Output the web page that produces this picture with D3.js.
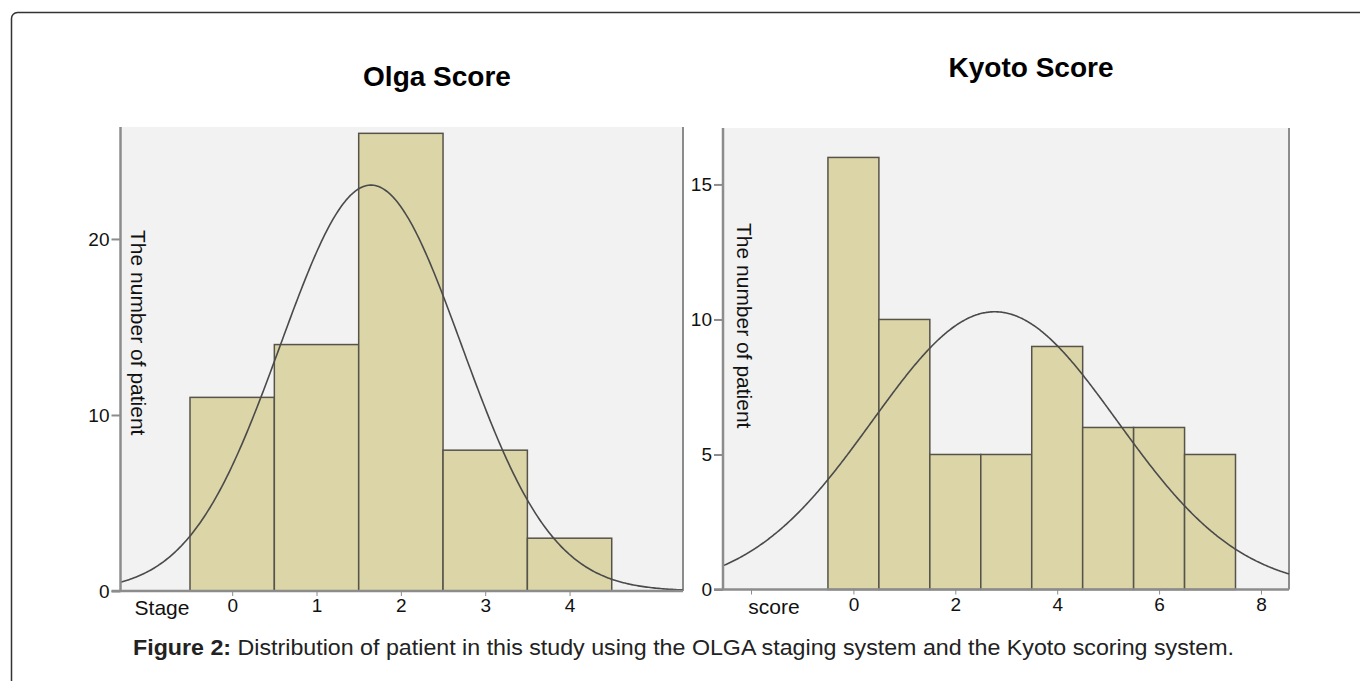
<!DOCTYPE html>
<html>
<head>
<meta charset="utf-8">
<script src="https://cdn.jsdelivr.net/npm/d3@7"></script>
<style>
  body { margin: 0; background: #fff; }
  svg { display: block; font-family: "Liberation Sans", Arial, sans-serif; }
  .axis path, .axis line { stroke: #8c8c8c; }
</style>
</head>
<body>
<div class="App"></div>
<script>
// histogram data
const olgaStages = [0, 1, 2, 3, 4];
const olgaCounts = [11, 14, 26, 8, 3];
const olgaYTicks = [0, 10, 20];
const olgaXTicks = [0, 1, 2, 3, 4];

const kyotoScores = [0, 1, 2, 3, 4, 5, 6, 7];
const kyotoCounts = [16, 10, 5, 5, 9, 6, 6, 5];
const kyotoYTicks = [0, 5, 10, 15];
const kyotoXTicks = [0, 2, 4, 6, 8];
const kyotoMinorTicks = [-2];

const yTitle = "The number of patient";

let width = 1360, height = 681;

let svg = d3.select(".App").append("svg")
  .attr("width", width)
  .attr("height", height);

// outer frame, runs off the right and bottom edges
svg.append("rect")
  .attr("x", 11.5).attr("y", 12.5)
  .attr("width", 1400).attr("height", 720)
  .attr("rx", 6)
  .attr("fill", "none")
  .attr("stroke", "#333")
  .attr("stroke-width", 1.5);

function drawPanel(opt) {
  let x = d3.scaleLinear().domain(opt.xDomain).range([opt.left, opt.right]);
  let y = d3.scaleLinear().domain(opt.yDomain).range([opt.bottom, opt.top]);
  let g = svg.append("g");

  // plot background
  g.append("rect")
    .attr("x", opt.left).attr("y", opt.top)
    .attr("width", opt.right - opt.left)
    .attr("height", opt.bottom - opt.top)
    .attr("fill", "#f2f2f2");

  // right border
  g.append("line")
    .attr("x1", opt.right).attr("x2", opt.right)
    .attr("y1", opt.top).attr("y2", opt.bottom)
    .attr("stroke", "#8c8c8c").attr("stroke-width", 2);

  // bars
  g.selectAll(".bar")
    .data(opt.bins.map((b, i) => ({ bin: b, count: opt.counts[i] })))
    .enter().append("rect")
    .attr("class", "bar")
    .attr("x", d => x(d.bin - 0.5))
    .attr("y", d => y(d.count))
    .attr("width", d => x(d.bin + 0.5) - x(d.bin - 0.5))
    .attr("height", d => y(0) - y(d.count))
    .attr("fill", "#dbd5a8")
    .attr("stroke", "#55534a")
    .attr("stroke-width", 1.5);

  // fitted normal curve
  let n = d3.sum(opt.counts);
  let mean = d3.sum(opt.bins, (b, i) => b * opt.counts[i]) / n;
  let sd = Math.sqrt(d3.sum(opt.bins, (b, i) => opt.counts[i] * (b - mean) ** 2) / (n - 1));
  let density = v => n / (sd * Math.sqrt(2 * Math.PI)) * Math.exp(-0.5 * ((v - mean) / sd) ** 2);
  let xs = d3.range(opt.xDomain[0], opt.xDomain[1], 0.02).concat([opt.xDomain[1]]);
  g.append("path")
    .datum(xs)
    .attr("fill", "none")
    .attr("stroke", "#4a4a4a")
    .attr("stroke-width", 1.6)
    .attr("d", d3.line().x(v => x(v)).y(v => y(density(v))));

  // y axis
  let yAxis = g.append("g")
    .attr("class", "axis")
    .attr("transform", "translate(" + opt.left + ",0)")
    .call(d3.axisLeft(y).tickValues(opt.yTicks).tickFormat(d3.format("d"))
      .tickSize(9).tickPadding(2).tickSizeOuter(0));
  yAxis.select(".domain").attr("stroke-width", 2.5)
    .attr("d", "M0," + opt.top + "V" + opt.bottom);
  yAxis.selectAll(".tick line").attr("stroke-width", 2);
  yAxis.selectAll("text").attr("font-size", 19).attr("fill", "#111").attr("font-family", null);

  // x axis
  let xAxis = g.append("g")
    .attr("class", "axis")
    .attr("transform", "translate(0," + opt.bottom + ")")
    .call(d3.axisBottom(x).tickValues(opt.xTicks).tickFormat(d3.format("d"))
      .tickSize(5).tickPadding(3).tickSizeOuter(0));
  xAxis.select(".domain").attr("stroke-width", 2.5)
    .attr("d", "M" + (opt.left - 9) + ",0H" + opt.right);
  xAxis.selectAll("text").attr("font-size", 19).attr("fill", "#111").attr("font-family", null);
  if (opt.minorTicks) {
    xAxis.selectAll(".minor")
      .data(opt.minorTicks)
      .enter().append("line")
      .attr("x1", d => x(d)).attr("x2", d => x(d))
      .attr("y1", 0).attr("y2", 5)
      .attr("stroke", "#bbb");
  }

  // x label sitting on the tick row
  g.append("text")
    .attr("x", opt.xLabelX).attr("y", opt.bottom + 24)
    .attr("text-anchor", "middle")
    .attr("font-size", 21)
    .attr("fill", "#111")
    .text(opt.xLabel);

  // y title, reads top to bottom
  g.append("text")
    .attr("transform", "translate(" + opt.yTitleX + "," + opt.yTitleY + ") rotate(90)")
    .attr("dominant-baseline", "central")
    .attr("font-size", 21)
    .attr("fill", "#111")
    .text(yTitle);

  // title
  g.append("text")
    .attr("x", opt.titleX).attr("y", opt.titleY)
    .attr("text-anchor", "middle")
    .attr("font-size", 28)
    .attr("font-weight", "bold")
    .attr("fill", "#000")
    .text(opt.title);
}

drawPanel({
  title: "Olga Score", titleX: 437, titleY: 86,
  bins: olgaStages, counts: olgaCounts,
  yTicks: olgaYTicks, xTicks: olgaXTicks,
  xDomain: [-1.324, 5.345], yDomain: [0, 26.36],
  left: 120.5, right: 683, top: 127, bottom: 591,
  xLabel: "Stage", xLabelX: 162,
  yTitleX: 138, yTitleY: 230
});

drawPanel({
  title: "Kyoto Score", titleX: 1031, titleY: 77,
  bins: kyotoScores, counts: kyotoCounts,
  yTicks: kyotoYTicks, xTicks: kyotoXTicks, minorTicks: kyotoMinorTicks,
  xDomain: [-2.56, 8.55], yDomain: [0, 17.09],
  left: 723, right: 1289, top: 128, bottom: 589.5,
  xLabel: "score", xLabelX: 774,
  yTitleX: 744, yTitleY: 223
});

// caption
let caption = svg.append("text")
  .attr("x", 133).attr("y", 655)
  .attr("font-size", 22)
  .attr("textLength", 1101)
  .attr("lengthAdjust", "spacingAndGlyphs")
  .attr("fill", "#222");
caption.append("tspan").attr("font-weight", "bold").text("Figure 2:");
caption.append("tspan").text(" Distribution of patient in this study using the OLGA staging system and the Kyoto scoring system.");
</script>
</body>
</html>
